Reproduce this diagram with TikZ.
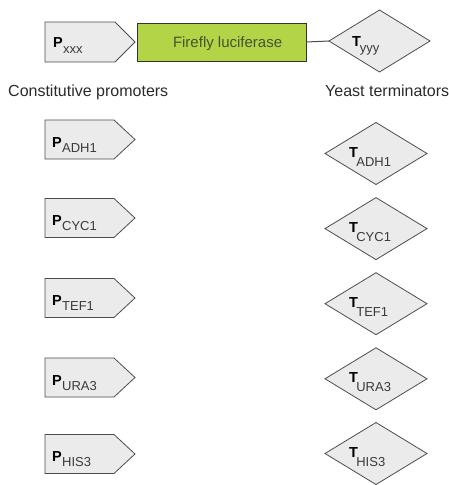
\documentclass[tikz,border=0pt]{standalone}
\usepackage{fontspec}
\setmainfont{Liberation Sans}
\usetikzlibrary{shapes.geometric}
\definecolor{shapefill}{HTML}{EBEBEB}
\definecolor{shapeline}{HTML}{4D4D4D}
\definecolor{lucgreen}{RGB}{180,212,72}
\definecolor{luctext}{RGB}{70,84,44}
\definecolor{subgray}{HTML}{3A3A3A}
\definecolor{labelgray}{HTML}{2A2A2A}
\newcommand{\pfnt}{\fontsize{14.5}{14.5}\selectfont\bfseries}
\newcommand{\sfnt}{\fontsize{13}{13}\selectfont\mdseries\color{subgray}}
\tikzset{
  prom/.style={draw=shapeline, fill=shapefill, line width=0.8pt, line join=miter},
  term/.style={diamond, draw=shapeline, fill=shapefill, line width=0.8pt,
    minimum width=102pt, minimum height=62pt, inner sep=0pt, outer sep=0pt},
  lbl/.style={anchor=base west, inner sep=0pt, outer sep=0pt},
  grouplbl/.style={anchor=base west, inner sep=0pt, font=\fontsize{16}{16}\selectfont, text=labelgray},
  link/.style={draw=shapeline, line width=1pt}
}
\begin{document}
\begin{tikzpicture}[x=1pt,y=-1pt]
\useasboundingbox (0,0) rectangle (449,485);
% top construct
\draw[prom] (45,22) -- (115,22) -- (135,42) -- (115,62) -- (45,62) -- cycle;
\coordinate (pxxx) at (90,42);
\node[draw=black!80, line width=0.9pt, fill=lucgreen, minimum width=169pt, minimum height=38pt, inner sep=0pt, outer sep=0pt] (luc) at (221.5,42) {};
\node[lbl, text=luctext, font=\fontsize{15}{15}\selectfont] (luct) at (173,47) {Firefly luciferase};
\node[term, minimum width=101pt] (tyyy) at (379.5,41) {};
\draw[link] (luc.east) -- (tyyy.west);
\node[lbl] (pxxxt) at (53,47) {\pfnt P\kern0.5pt\raisebox{-6pt}{\sfnt xxx}};
\node[lbl] (tyyyt) at (352,46) {\pfnt T\kern-1pt\raisebox{-6pt}{\sfnt yyy}};
% group labels
\node[grouplbl] (cp) at (8,96.5) {Constitutive promoters};
\node[grouplbl] (yt) at (325,96) {Yeast terminators};
% promoters
\foreach \nm/\cy in {ADH1/139.5, CYC1/218, TEF1/298, URA3/377.5, HIS3/454}{
  \draw[prom] (45,\cy-19.5) -- (114,\cy-19.5) -- (135,\cy) -- (114,\cy+19.5) -- (45,\cy+19.5) -- cycle;
  \node[lbl] (p\nm t) at (52,\cy+7.5) {\pfnt P\kern0.5pt\raisebox{-5pt}{\sfnt \nm}};
}
% terminators
\foreach \nm/\cy in {ADH1/153.5, CYC1/228.6, TEF1/303.7, URA3/378.8, HIS3/453.5}{
  \node[term] (t\nm) at (376,\cy) {};
  \node[lbl] (t\nm t) at (349,\cy+4) {\pfnt T\kern-1.5pt\raisebox{-8.5pt}{\sfnt \nm}};
}
\end{tikzpicture}
\end{document}
